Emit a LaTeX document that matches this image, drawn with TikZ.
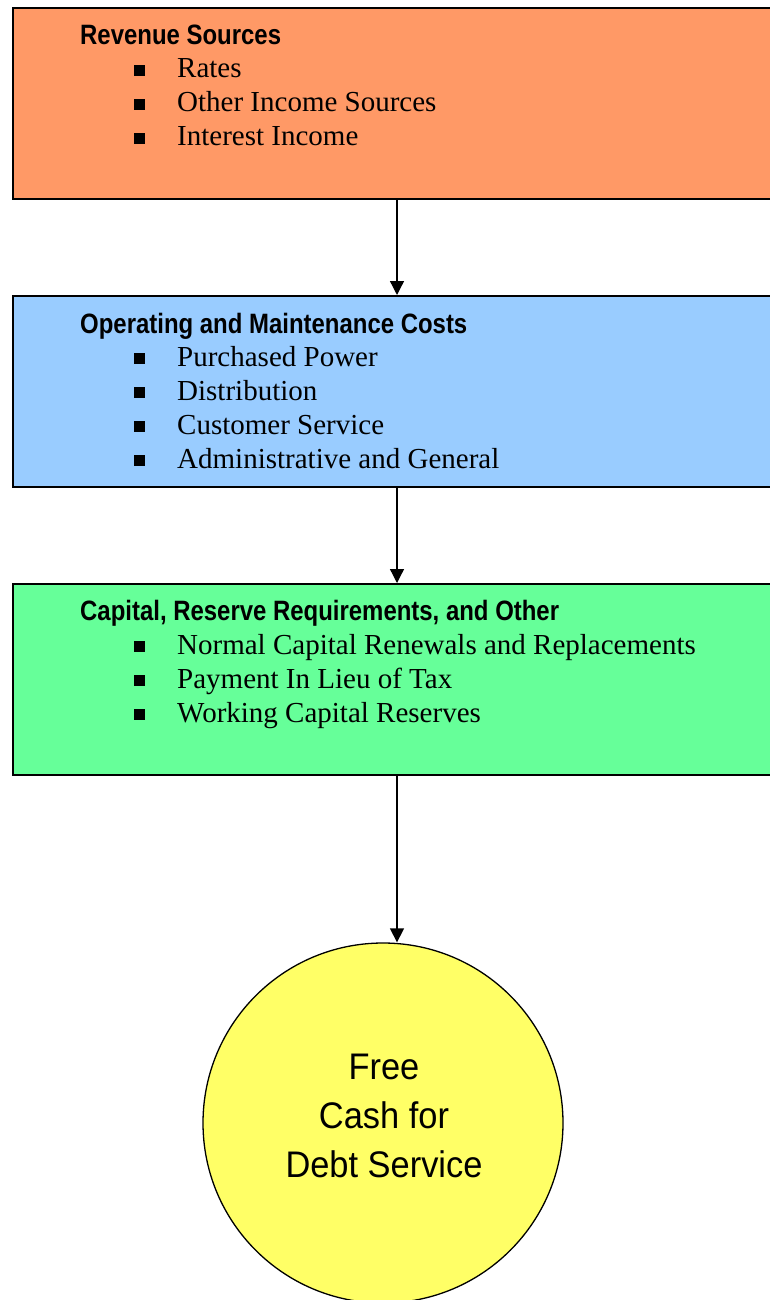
\documentclass[tikz,border=0pt]{standalone}
\usepackage{fontspec}
\usepackage{tikz}
\usetikzlibrary{arrows.meta, positioning}
\setmainfont{Liberation Serif}
\newfontfamily\headfont[FakeStretch=0.855]{Liberation Sans}
\newfontfamily\cashfont[FakeStretch=0.93]{Liberation Sans}
\definecolor{RevOrange}{HTML}{FF9966}
\definecolor{CostBlue}{HTML}{99CCFF}
\definecolor{CapGreen}{HTML}{66FF99}
\definecolor{CashYellow}{HTML}{FFFF66}

\begin{document}
\begin{tikzpicture}[x=1pt, y=-1pt,
    stage/.style={draw=black, line width=2pt, minimum width=768pt, minimum height=191pt, anchor=north west, inner sep=0pt},
    heading/.style={anchor=base west, inner sep=0pt, font=\headfont\bfseries\fontsize{28}{34}\selectfont},
    entry/.style={anchor=base west, inner sep=0pt, font=\fontsize{29}{34}\selectfont},
    bulletbox/.style={fill=black, minimum size=11pt, inner sep=0pt},
    flow/.style={-{Triangle[length=14pt, width=14pt]}, line width=1.3pt}]
    \useasboundingbox (0,0) rectangle (770,1300);
    \clip (0,0) rectangle (770,1300);

    % Three stages, top to bottom
    \node[stage, fill=RevOrange] (rev) at (12,7) {};
    \node[stage, fill=CostBlue] (cost) at (12,295) {};
    \node[stage, fill=CapGreen] (capx) at (12,583) {};

    \node[heading] (revhead) at (80,45) {Revenue Sources};
    \foreach \y/\txt [count=\i] in {78/Rates, 112/Other Income Sources, 146/Interest Income} {
        \node[bulletbox] (revb\i) at (139,\y-7.5) {};
        \node[entry] (revi\i) at (177,\y) {\txt};
    }

    \node[heading] (costhead) at (80,333) {Operating and Maintenance Costs};
    \foreach \y/\txt [count=\i] in {366/Purchased Power, 400/Distribution, 434/Customer Service, 468/Administrative and General} {
        \node[bulletbox] (costb\i) at (139,\y-7.5) {};
        \node[entry] (costi\i) at (177,\y) {\txt};
    }

    \node[heading] (caphead) at (80,620) {Capital, Reserve Requirements, and Other};
    \foreach \y/\txt [count=\i] in {654/Normal Capital Renewals and Replacements, 688/Payment In Lieu of Tax, 722/Working Capital Reserves} {
        \node[bulletbox] (capb\i) at (139,\y-7.5) {};
        \node[entry] (capi\i) at (177,\y) {\txt};
    }

    % What is left over
    \node[circle, draw=black, line width=1.3pt, fill=CashYellow, minimum size=360pt, inner sep=0pt] (fcash) at (383,1123) {};
    \node[align=center, font=\cashfont\fontsize{37}{49}\selectfont] (fcashtext) at (384,1116) {Free\\Cash for\\Debt Service};

    \draw[flow] (rev.south) -- (cost.north);
    \draw[flow] (cost.south) -- (capx.north);
    \draw[flow] (capx.south) -- (capx.south |- fcash.north);
\end{tikzpicture}
\end{document}
